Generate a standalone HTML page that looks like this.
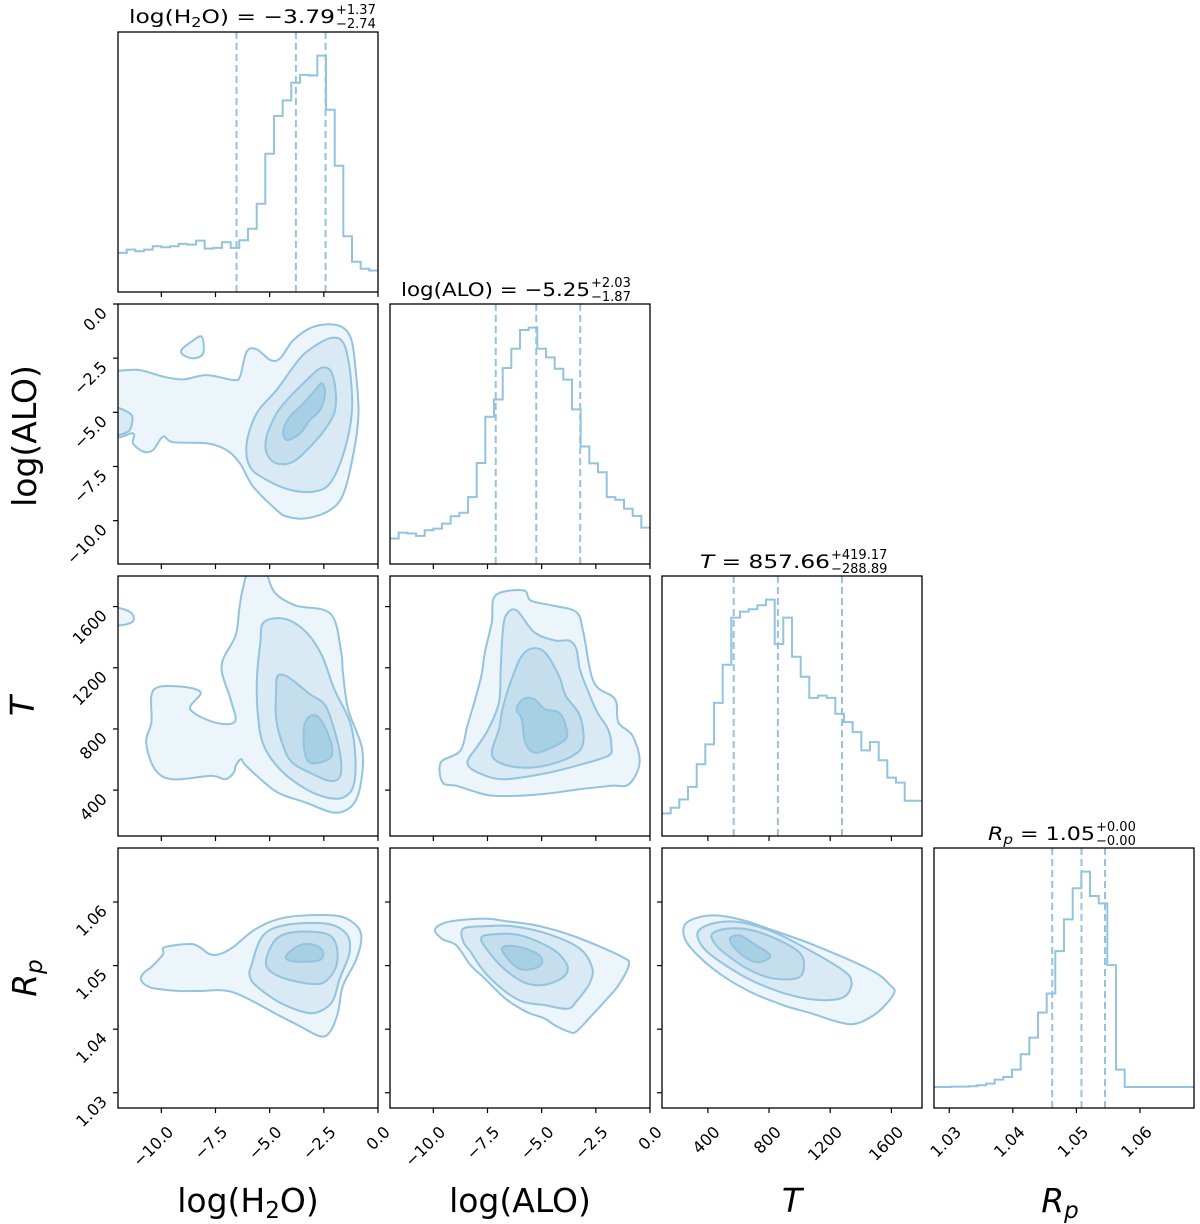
<!DOCTYPE html>
<html><head><meta charset="utf-8"><style>
html,body{margin:0;padding:0;background:#fff;}
svg{display:block;font-family:"DejaVu Sans","Liberation Sans",sans-serif;}
</style></head><body>
<svg id="chart" width="1200" height="1224" viewBox="0 0 1200 1224" xmlns="http://www.w3.org/2000/svg"></svg>
<script>
// ---------- data ----------
const paramNames = ["H2O","ALO","T","Rp"];
const rangeH2O = [-12, 0];
const rangeALO = [-12, 0];
const rangeT = [100, 1800];
const rangeRp = [1.0276, 1.0685];
const ticksH2O = [-10, -7.5, -5, -2.5, 0];
const tickLabelsH2O = ["\u221210.0","\u22127.5","\u22125.0","\u22122.5","0.0"];
const ticksALO = [-10, -7.5, -5, -2.5, 0];
const tickLabelsALO = ["\u221210.0","\u22127.5","\u22125.0","\u22122.5","0.0"];
const ticksT = [400, 800, 1200, 1600];
const tickLabelsT = ["400","800","1200","1600"];
const ticksRp = [1.03, 1.04, 1.05, 1.06];
const tickLabelsRp = ["1.03","1.04","1.05","1.06"];

const histH2O = [118,128,123,128,138,135,138,145,143,155,131,133,150,133,156,191,266,417,531,578,631,655,653,713,550,381,168,91,70,65];
const histALO = [77,95,92,85,102,107,122,144,155,202,305,445,497,592,650,707,714,650,624,590,557,467,355,304,277,202,194,167,145,110];
const histT = [68,85,110,148,216,276,401,516,658,676,683,695,712,578,658,540,480,416,423,416,368,343,313,258,283,228,176,161,106,106];
const histRp = [63,63,64,64,65,68,73,85,93,115,161,211,286,343,470,565,658,708,635,613,428,115,63,63,63,63,63,63,63,63];

const quantH2O = [-6.53, -3.79, -2.42];
const quantALO = [-7.12, -5.25, -3.22];
const quantT = [568.77, 857.66, 1276.83];
const quantRp = [1.0462, 1.0508, 1.0545];

// contour polygons [x, y] in data units, levels 1 (outer) .. 4 (inner)
const cH2O_ALO_1 = [[-12,-3.08],[-11.0,-3.05],[-9.92,-3.35],[-8.99,-3.48],[-7.91,-3.28],[-6.68,-3.51],[-6.37,-3.35],[-6.06,-2.20],[-5.60,-2.09],[-4.98,-2.58],[-4.52,-2.51],[-3.90,-1.66],[-2.98,-1.05],[-1.90,-0.97],[-1.28,-1.51],[-1.05,-2.89],[-0.90,-5.04],[-1.13,-6.89],[-1.59,-8.74],[-2.21,-9.51],[-3.29,-9.89],[-4.21,-9.81],[-4.68,-9.51],[-5.76,-8.43],[-6.37,-7.35],[-6.99,-6.74],[-7.91,-6.43],[-9.46,-6.38],[-9.92,-6.12],[-10.38,-6.74],[-10.84,-6.81],[-11.31,-6.43],[-11.31,-5.97],[-12.3,-5.97],[-12.3,-3.08]];
const cH2O_ALO_1b = [[-9.07,-2.12],[-8.61,-1.74],[-8.14,-1.51],[-8.07,-2.28],[-8.53,-2.51],[-8.99,-2.35]];
const cH2O_ALO_1c = [[-12.3,-4.81],[-11.46,-5.04],[-11.34,-5.43],[-11.54,-5.89],[-12.3,-6.0]];
const cH2O_ALO_2 = [[-3.29,-2.20],[-2.21,-1.58],[-1.59,-1.81],[-1.28,-3.20],[-1.21,-5.04],[-1.59,-6.89],[-2.21,-8.27],[-2.98,-8.66],[-4.06,-8.58],[-5.14,-8.12],[-5.91,-7.51],[-6.06,-6.43],[-5.60,-5.04],[-4.68,-3.97],[-3.90,-2.89]];
const cH2O_ALO_3 = [[-2.67,-2.97],[-2.21,-3.05],[-1.98,-3.81],[-1.98,-4.89],[-2.36,-5.66],[-2.98,-6.43],[-3.90,-7.27],[-4.68,-7.35],[-5.14,-6.89],[-5.14,-6.12],[-4.68,-5.04],[-4.06,-4.28],[-3.29,-3.51]];
const cH2O_ALO_4 = [[-2.59,-3.66],[-2.44,-4.12],[-2.67,-4.89],[-3.13,-5.35],[-3.60,-5.97],[-4.21,-6.28],[-4.37,-5.81],[-4.06,-5.20],[-3.44,-4.58],[-2.90,-3.97]];

const cH2O_T_1 = [[-5.92,1850],[-5.27,1850],[-4.78,1695],[-3.81,1608],[-2.19,1553],[-1.70,1302],[-1.62,1171],[-1.38,930],[-0.73,668],[-0.81,428],[-1.21,297],[-2.02,253],[-3.32,318],[-4.62,384],[-5.59,493],[-6.16,570],[-6.32,603],[-6.57,559],[-6.65,515],[-7.05,471],[-7.70,493],[-9.49,471],[-10.30,537],[-10.70,712],[-10.46,843],[-10.38,1050],[-9.32,1079],[-8.19,1040],[-8.67,930],[-7.54,843],[-6.60,849],[-6.81,996],[-7.22,1214],[-6.57,1411],[-6.40,1586],[-6.24,1717]];
const cH2O_T_1b = [[-12.3,1590],[-11.43,1564],[-11.35,1498],[-12.3,1481]];
const cH2O_T_2 = [[-5.27,1498],[-4.30,1520],[-3.32,1433],[-2.59,1280],[-2.02,1061],[-1.29,843],[-1.05,624],[-1.13,428],[-1.62,351],[-2.35,351],[-3.32,406],[-4.46,526],[-5.27,690],[-5.54,887],[-5.59,1127],[-5.43,1367]];
const cH2O_T_3 = [[-4.62,1149],[-4.13,1138],[-3.16,1029],[-2.43,952],[-1.94,756],[-1.70,581],[-1.78,482],[-2.27,461],[-3.16,515],[-3.97,581],[-4.38,690],[-4.70,865],[-4.70,1061]];
const cH2O_T_4 = [[-3.08,887],[-2.67,865],[-2.27,756],[-2.11,668],[-2.19,613],[-2.67,581],[-3.16,581],[-3.40,657],[-3.40,821]];

const cALO_T_1 = [[-7.13,1673],[-5.84,1706],[-5.51,1640],[-4.54,1608],[-3.40,1564],[-3.08,1433],[-2.59,1105],[-1.62,996],[-1.46,843],[-0.81,756],[-0.48,581],[-0.97,439],[-1.78,428],[-3.24,406],[-5.03,373],[-7.13,362],[-7.95,384],[-8.92,428],[-9.57,450],[-9.65,581],[-8.76,657],[-8.43,821],[-8.11,974],[-7.78,1149],[-7.62,1302],[-7.30,1498]];
const cALO_T_2 = [[-6.65,1542],[-6.16,1575],[-5.35,1433],[-4.38,1378],[-3.73,1378],[-3.40,1324],[-3.24,1192],[-2.84,1040],[-2.43,908],[-1.94,799],[-1.78,690],[-1.94,624],[-3.40,559],[-5.03,504],[-6.81,471],[-7.95,515],[-8.43,581],[-7.95,690],[-7.46,799],[-6.97,974],[-6.89,1192],[-6.81,1411]];
const cALO_T_3 = [[-5.51,1324],[-4.86,1302],[-4.21,1149],[-3.89,1018],[-3.24,887],[-3.08,712],[-3.57,624],[-4.86,559],[-6.0,548],[-6.97,581],[-7.30,646],[-6.97,799],[-6.81,930],[-6.49,1083],[-6.0,1258]];
const cALO_T_4 = [[-5.84,996],[-5.35,996],[-4.86,930],[-4.21,908],[-3.89,821],[-3.89,734],[-4.70,668],[-5.35,646],[-5.76,712],[-5.92,865],[-6.16,930]];

const cH2O_Rp_1 = [[-10.85,1.0487],[-10.39,1.0500],[-9.92,1.0518],[-9.85,1.0529],[-8.69,1.0534],[-8.23,1.0529],[-7.77,1.0518],[-7.31,1.0518],[-6.69,1.0529],[-5.62,1.0558],[-4.23,1.0576],[-2.08,1.0579],[-1.16,1.0568],[-0.77,1.0547],[-1.00,1.0510],[-1.62,1.0468],[-1.85,1.0426],[-2.23,1.0395],[-2.69,1.0389],[-3.62,1.0405],[-4.54,1.0421],[-6.69,1.0458],[-8.23,1.0460],[-9.15,1.0460],[-10.08,1.0463],[-10.54,1.0466],[-10.92,1.0476]];
const cH2O_Rp_2 = [[-5.85,1.0500],[-5.31,1.0547],[-4.23,1.0564],[-2.39,1.0566],[-1.46,1.0550],[-1.31,1.0521],[-1.77,1.0479],[-2.08,1.0445],[-2.62,1.0429],[-3.31,1.0426],[-4.54,1.0442],[-5.62,1.0468],[-5.92,1.0484]];
const cH2O_Rp_3 = [[-5.16,1.0510],[-4.69,1.0542],[-3.77,1.0553],[-2.39,1.0550],[-1.92,1.0532],[-1.92,1.0500],[-2.39,1.0476],[-3.00,1.0471],[-4.23,1.0479],[-5.00,1.0492]];
const cH2O_Rp_4 = [[-4.23,1.0516],[-3.62,1.0532],[-3.00,1.0533],[-2.57,1.0524],[-2.62,1.0510],[-3.31,1.0506],[-4.08,1.0508]];

const cALO_Rp_1 = [[-9.92,1.0557],[-9.27,1.0569],[-7.64,1.0574],[-6.67,1.0570],[-5.20,1.0563],[-3.41,1.0545],[-1.30,1.0514],[-0.98,1.0501],[-1.46,1.0469],[-2.11,1.0443],[-2.76,1.0419],[-3.41,1.0396],[-3.74,1.0396],[-4.39,1.0406],[-4.88,1.0417],[-5.69,1.0427],[-6.67,1.0448],[-7.64,1.0480],[-8.29,1.0501],[-8.94,1.0532],[-9.59,1.0542]];
const cALO_Rp_2 = [[-8.62,1.0558],[-7.64,1.0562],[-6.34,1.0562],[-4.72,1.0550],[-3.25,1.0527],[-2.68,1.0498],[-2.76,1.0474],[-3.41,1.0443],[-3.82,1.0432],[-4.88,1.0438],[-5.85,1.0443],[-6.67,1.0459],[-7.64,1.0490],[-8.29,1.0522],[-8.62,1.0538]];
const cALO_Rp_3 = [[-7.80,1.0542],[-7.32,1.0549],[-6.02,1.0548],[-4.55,1.0527],[-3.90,1.0506],[-3.82,1.0490],[-4.23,1.0477],[-5.04,1.0469],[-5.85,1.0474],[-6.67,1.0493],[-7.32,1.0516]];
const cALO_Rp_4 = [[-6.83,1.0527],[-6.34,1.0531],[-5.53,1.0524],[-5.04,1.0514],[-5.04,1.0501],[-5.53,1.0494],[-6.02,1.0495],[-6.50,1.0508]];

const cT_Rp_1 = [[243,1.0561],[312,1.0574],[451,1.0579],[635,1.0571],[820,1.0556],[1097,1.0532],[1466,1.0493],[1593,1.0469],[1616,1.0456],[1512,1.0427],[1373,1.0409],[1258,1.0411],[1074,1.0425],[889,1.0438],[658,1.0461],[428,1.0496],[266,1.0535]];
const cT_Rp_2 = [[335,1.0553],[428,1.0566],[589,1.0569],[797,1.0556],[1004,1.0532],[1281,1.0493],[1339,1.0474],[1304,1.0453],[1212,1.0446],[1050,1.0448],[866,1.0459],[658,1.0480],[451,1.0511],[358,1.0532]];
const cT_Rp_3 = [[428,1.0550],[520,1.0558],[681,1.0556],[866,1.0540],[1004,1.0519],[1027,1.0495],[981,1.0480],[820,1.0480],[658,1.0495],[497,1.0522],[439,1.0537]];
const cT_Rp_4 = [[543,1.0542],[612,1.0547],[716,1.0532],[808,1.0516],[751,1.0506],[681,1.0508],[589,1.0524]];

// ---------- layout ----------
const NS = "http://www.w3.org/2000/svg";
const svg = document.getElementById("chart");
const colX = [118, 390, 662, 934];
const rowY = [32, 304, 576, 848];
const S = 260;
const LINE = "#93c3de";
const FILLS = ["#ecf5fa", "#d9eaf4", "#c4deed", "#a8d0e5"];
const ranges = [rangeH2O, rangeALO, rangeT, rangeRp];
const ticks = [ticksH2O, ticksALO, ticksT, ticksRp];
const tickLabels = [tickLabelsH2O, tickLabelsALO, tickLabelsT, tickLabelsRp];

function el(tag, attrs, parent) {
  const e = document.createElementNS(NS, tag);
  for (const k in attrs) e.setAttribute(k, attrs[k]);
  (parent || svg).appendChild(e);
  return e;
}
function xScale(col, v) { const r = ranges[col]; return colX[col] + (v - r[0]) / (r[1] - r[0]) * S; }
function yScale(row, v) { const r = ranges[row]; return rowY[row] + S - (v - r[0]) / (r[1] - r[0]) * S; }

function smoothClosed(pts) {
  const n = pts.length; let d = "M" + pts[0][0].toFixed(1) + "," + pts[0][1].toFixed(1);
  for (let i = 0; i < n; i++) {
    const p0 = pts[(i - 1 + n) % n], p1 = pts[i], p2 = pts[(i + 1) % n], p3 = pts[(i + 2) % n];
    const c1 = [p1[0] + (p2[0] - p0[0]) / 6, p1[1] + (p2[1] - p0[1]) / 6];
    const c2 = [p2[0] - (p3[0] - p1[0]) / 6, p2[1] - (p3[1] - p1[1]) / 6];
    d += "C" + c1[0].toFixed(1) + "," + c1[1].toFixed(1) + " " + c2[0].toFixed(1) + "," + c2[1].toFixed(1) + " " + p2[0].toFixed(1) + "," + p2[1].toFixed(1);
  }
  return d + "Z";
}

const defs = el("defs", {});
for (let r = 0; r < 4; r++) for (let c = 0; c <= r; c++) {
  const cp = el("clipPath", { id: "clip" + r + c }, defs);
  el("rect", { x: colX[c], y: rowY[r], width: S, height: S }, cp);
}

function drawContours(row, col, levels, name) {
  const g = el("g", { "clip-path": "url(#clip" + row + col + ")" });
  
  
  levels.forEach((polys, li) => {
    polys.forEach((poly, pi) => {
      const pts = poly.map(p => [xScale(col, p[0]), yScale(row, p[1])]);
      const path = el("path", { d: smoothClosed(pts), fill: FILLS[li], stroke: LINE, "stroke-width": 2, "stroke-linejoin": "round" }, g);
      
      
    });
  });
}

function drawHist(idx, vals, quants, name) {
  const g = el("g", { "clip-path": "url(#clip" + idx + idx + ")" });
  
  
  const r = ranges[idx], n = vals.length, bw = (r[1] - r[0]) / n;
  const maxV = Math.max(...vals) * 1.1;
  const yv = v => rowY[idx] + S - v / maxV * S;
  let d = "";
  vals.forEach((v, i) => {
    const x0 = xScale(idx, r[0] + i * bw), x1 = xScale(idx, r[0] + (i + 1) * bw);
    d += (i === 0 ? "M" : "L") + x0.toFixed(1) + "," + yv(v).toFixed(1) + "L" + x1.toFixed(1) + "," + yv(v).toFixed(1);
  });
  const p = el("path", { d: d, fill: "none", stroke: LINE, "stroke-width": 2 }, g);
  
  
  quants.forEach((q, i) => {
    const x = xScale(idx, q);
    const l = el("line", { x1: x, x2: x, y1: rowY[idx], y2: rowY[idx] + S, stroke: LINE, "stroke-width": 2, "stroke-dasharray": "7,4" }, g);
    
    
  });
}

drawHist(0, histH2O, quantH2O, "h2o");
drawHist(1, histALO, quantALO, "alo");
drawHist(2, histT, quantT, "t");
drawHist(3, histRp, quantRp, "rp");
drawContours(1, 0, [[cH2O_ALO_1, cH2O_ALO_1b], [cH2O_ALO_2, cH2O_ALO_1c], [cH2O_ALO_3], [cH2O_ALO_4]], "h2o-vs-alo");
drawContours(2, 0, [[cH2O_T_1, cH2O_T_1b], [cH2O_T_2], [cH2O_T_3], [cH2O_T_4]], "h2o-vs-t");
drawContours(2, 1, [[cALO_T_1], [cALO_T_2], [cALO_T_3], [cALO_T_4]], "alo-vs-t");
drawContours(3, 0, [[cH2O_Rp_1], [cH2O_Rp_2], [cH2O_Rp_3], [cH2O_Rp_4]], "h2o-vs-rp");
drawContours(3, 1, [[cALO_Rp_1], [cALO_Rp_2], [cALO_Rp_3], [cALO_Rp_4]], "alo-vs-rp");
drawContours(3, 2, [[cT_Rp_1], [cT_Rp_2], [cT_Rp_3], [cT_Rp_4]], "t-vs-rp");

for (let r = 0; r < 4; r++) for (let c = 0; c <= r; c++) {
  const f = el("rect", { x: colX[c], y: rowY[r], width: S, height: S, fill: "none", stroke: "#000", "stroke-width": 1.3 });
  
  
  ticks[c].forEach((t, i) => {
    const x = xScale(c, t);
    const tk = el("line", { x1: x, x2: x, y1: rowY[r] + S, y2: rowY[r] + S + 5, stroke: "#000", "stroke-width": 1.2 });
    
    
    if (r === 3) {
      const bx = x + 13, by = rowY[3] + S + 25;
      const tl = el("text", { x: bx, y: by, "font-size": 16, "text-anchor": "end", transform: "rotate(-45 " + bx + " " + by + ")", fill: "#000" });
      tl.textContent = tickLabels[c][i];
      
      
    }
  });
  if (c < r) {
    ticks[r].forEach((t, i) => {
      const y = yScale(r, t);
      const tk = el("line", { x1: colX[c] - 5, x2: colX[c], y1: y, y2: y, stroke: "#000", "stroke-width": 1.2 });
      
      
      if (c === 0) {
        const lx = colX[0] - 10, ly = y + 10;
        const tl = el("text", { x: lx, y: ly, "font-size": 16, "text-anchor": "end", transform: "rotate(-45 " + lx + " " + ly + ")", fill: "#000" });
        tl.textContent = tickLabels[r][i];
        
        
      }
    });
  }
}
</script>
<svg style="position:absolute;left:0;top:0" width="1200" height="1224" viewBox="0 0 1200 1224" xmlns="http://www.w3.org/2000/svg" font-family="DejaVu Sans, Liberation Sans, sans-serif">
  <g>
    <text x="129" y="23" font-size="19" textLength="206" lengthAdjust="spacingAndGlyphs">log(H<tspan font-size="13" dy="4">2</tspan><tspan dy="-4">O) = −3.79</tspan></text>
    <text x="336" y="14" font-size="13">+1.37</text>
    <text x="336" y="28" font-size="13">−2.74</text>
  </g>
  <g>
    <text x="401" y="296" font-size="19" textLength="189" lengthAdjust="spacingAndGlyphs">log(ALO) = −5.25</text>
    <text x="591" y="287" font-size="13">+2.03</text>
    <text x="591" y="301" font-size="13">−1.87</text>
  </g>
  <g>
    <text x="700" y="568" font-size="19" textLength="130" lengthAdjust="spacingAndGlyphs"><tspan font-style="italic">T</tspan> = 857.66</text>
    <text x="831" y="559" font-size="13">+419.17</text>
    <text x="831" y="573" font-size="13">−288.89</text>
  </g>
  <g>
    <text x="988" y="840" font-size="19" textLength="107" lengthAdjust="spacingAndGlyphs"><tspan font-style="italic">R<tspan font-size="13" dy="4">p</tspan></tspan><tspan dy="-4"> = 1.05</tspan></text>
    <text x="1096" y="831" font-size="13">+0.00</text>
    <text x="1096" y="845" font-size="13">−0.00</text>
  </g>
  <text x="248" y="1212" font-size="33" text-anchor="middle">log(H<tspan font-size="23" dy="6">2</tspan><tspan dy="-6">O)</tspan></text>
  <text x="520" y="1212" font-size="33" text-anchor="middle">log(ALO)</text>
  <text x="792" y="1212" font-size="33" text-anchor="middle" font-style="italic">T</text>
  <text x="1060" y="1212" font-size="33" text-anchor="middle" font-style="italic">R<tspan font-size="23" dy="6">p</tspan></text>
  <text x="0" y="0" font-size="33" text-anchor="middle" transform="translate(36 436) rotate(-90)">log(ALO)</text>
  <text x="0" y="0" font-size="33" text-anchor="middle" font-style="italic" transform="translate(34 706) rotate(-90)">T</text>
  <text x="0" y="0" font-size="33" text-anchor="middle" font-style="italic" transform="translate(36 978) rotate(-90)">R<tspan font-size="23" dy="6">p</tspan></text>
</svg>
</body></html>
